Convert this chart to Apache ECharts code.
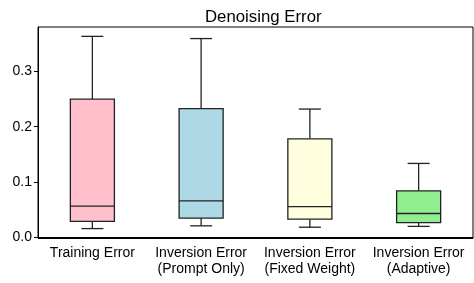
<!DOCTYPE html>
<html>
<head>
<meta charset="utf-8">
<script src="https://cdn.jsdelivr.net/npm/echarts@6/dist/echarts.min.js"></script>
<style>
  html, body { margin: 0; padding: 0; background: #fff; }
  #chart-container { width: 474px; height: 283px; }
</style>
</head>
<body>
<div id="chart-container"></div>
<script>
const categories = [
    "Training Error",
    "Inversion Error\n(Prompt Only)",
    "Inversion Error\n(Fixed Weight)",
    "Inversion Error\n(Adaptive)",
];
const whiskerLow = [0.015, 0.020, 0.0175, 0.019];
const q1 = [0.028, 0.034, 0.032, 0.026];
const medians = [0.0556, 0.0654, 0.055, 0.0424];
const q3 = [0.250, 0.2327, 0.178, 0.0836];
const whiskerHigh = [0.364, 0.360, 0.232, 0.1333];
const yTicks = [0, 0.1, 0.2, 0.3];

const boxColors = ["#FFC0CB", "#ADD8E6", "#FFFFE0", "#90EE90"];
const fontFamily = "Liberation Sans, Arial, sans-serif";

let dom = document.getElementById("chart-container");
let myChart = echarts.init(dom, null, { renderer: "canvas" });

let boxData = categories.map((c, i) => [i, whiskerLow[i], q1[i], medians[i], q3[i], whiskerHigh[i]]);

function renderBox(params, api) {
    const i = api.value(0);
    const pLow = api.coord([i, api.value(1)]);
    const pQ1 = api.coord([i, api.value(2)]);
    const pMed = api.coord([i, api.value(3)]);
    const pQ3 = api.coord([i, api.value(4)]);
    const pHigh = api.coord([i, api.value(5)]);
    const bw = api.size([1, 0])[0] * 0.405;
    const cw = bw / 2;
    const cx = pQ1[0];
    const line = { stroke: "#222", lineWidth: 1.3 };
    return {
        type: "group",
        children: [
            { type: "line", shape: { x1: cx, y1: pQ3[1], x2: cx, y2: pHigh[1] }, style: line },
            { type: "line", shape: { x1: cx, y1: pQ1[1], x2: cx, y2: pLow[1] }, style: line },
            { type: "line", shape: { x1: cx - cw / 2, y1: pHigh[1], x2: cx + cw / 2, y2: pHigh[1] }, style: line },
            { type: "line", shape: { x1: cx - cw / 2, y1: pLow[1], x2: cx + cw / 2, y2: pLow[1] }, style: line },
            {
                type: "rect",
                shape: { x: cx - bw / 2, y: pQ3[1], width: bw, height: pQ1[1] - pQ3[1] },
                style: { fill: boxColors[params.dataIndex], stroke: "#222", lineWidth: 1.3 },
            },
            { type: "line", shape: { x1: cx - bw / 2, y1: pMed[1], x2: cx + bw / 2, y2: pMed[1] }, style: line },
        ],
    };
}

let option = {
    animation: false,
    title: {
        text: "Denoising Error",
        left: 200,
        top: 4,
        textStyle: { fontFamily: fontFamily, fontSize: 16.8, fontWeight: "normal", color: "#000" },
    },
    grid: {
        left: 38,
        right: 1,
        top: 27,
        bottom: 44.5,
        show: true,
        borderColor: "#000",
        borderWidth: 1,
    },
    xAxis: {
        type: "category",
        data: categories,
        boundaryGap: true,
        axisLine: { lineStyle: { color: "#000", width: 1 } },
        axisTick: { alignWithLabel: true, length: 4, lineStyle: { color: "#000" } },
        axisLabel: {
            color: "#000",
            fontFamily: fontFamily,
            fontSize: 14,
            lineHeight: 15.5,
            margin: 7,
            interval: 0,
        },
        splitLine: { show: false },
    },
    yAxis: {
        type: "value",
        min: -0.003,
        max: 0.381,
        axisLine: { show: true, lineStyle: { color: "#000", width: 1 } },
        axisTick: { show: true, length: 4, lineStyle: { color: "#000" }, customValues: yTicks },
        axisLabel: {
            color: "#000",
            fontFamily: fontFamily,
            fontSize: 14,
            margin: 6,
            customValues: yTicks,
            formatter: (v) => v.toFixed(1),
        },
        splitLine: { show: false },
    },
    series: [{
        type: "custom",
        renderItem: renderBox,
        data: boxData,
        encode: { x: 0, y: [1, 2, 3, 4, 5] },
    }, ],
};

if (option && typeof option === "object") {
    myChart.setOption(option);
}

window.addEventListener("resize", myChart.resize);
</script>
</body>
</html>
